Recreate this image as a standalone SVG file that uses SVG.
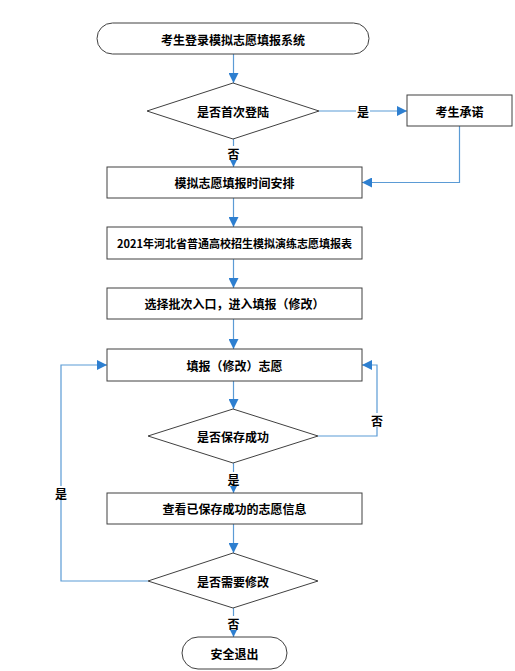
<svg xmlns="http://www.w3.org/2000/svg" width="515" height="671" viewBox="0 0 515 671">
<style>
.n{fill:#fff;stroke:#404040;stroke-width:1}
.t{font-family:"Noto Sans CJK SC","Liberation Serif",sans-serif;font-size:12px;font-weight:bold;fill:#000;text-anchor:middle;dominant-baseline:central}
.c{fill:none;stroke:#5b9bd5;stroke-width:1.2}
.lb{fill:#fff}
</style>
<defs>
<marker id="ah" markerUnits="userSpaceOnUse" markerWidth="10" markerHeight="10" viewBox="0 0 10 10" refX="10" refY="5" orient="auto">
<path d="M0,0 L10,5 L0,10 z" fill="#2e7fd0"/>
</marker>
</defs>
<rect width="515" height="671" fill="#fff"/>
<g id="connectors">
<path class="c" d="M233.5,54 V83" marker-end="url(#ah)"/>
<path class="c" d="M319,111 H407" marker-end="url(#ah)"/>
<path class="c" d="M459.5,126 V182.5 H362" marker-end="url(#ah)"/>
<path class="c" d="M233.5,139 V167" marker-end="url(#ah)"/>
<path class="c" d="M233.5,198 V227" marker-end="url(#ah)"/>
<path class="c" d="M233.5,259 V288" marker-end="url(#ah)"/>
<path class="c" d="M233.5,319 V349" marker-end="url(#ah)"/>
<path class="c" d="M233.5,381 V409" marker-end="url(#ah)"/>
<path class="c" d="M318,436 H377 V365 H362" marker-end="url(#ah)"/>
<path class="c" d="M233.5,463 V493" marker-end="url(#ah)"/>
<path class="c" d="M233.5,524 V553" marker-end="url(#ah)"/>
<path class="c" d="M148,581 H61 V365 H107" marker-end="url(#ah)"/>
<path class="c" d="M233.5,608 V637" marker-end="url(#ah)"/>
<rect class="lb" x="356" y="104" width="14" height="14"/>
<text class="t" x="363" y="111">是</text>
<rect class="lb" x="226.5" y="146" width="14" height="14"/>
<text class="t" x="233.5" y="153">否</text>
<rect class="lb" x="370" y="413" width="14" height="14"/>
<text class="t" x="377" y="420">否</text>
<rect class="lb" x="226.5" y="472" width="14" height="14"/>
<text class="t" x="233.5" y="479">是</text>
<rect class="lb" x="54" y="486" width="14" height="14"/>
<text class="t" x="61" y="493">是</text>
<rect class="lb" x="226.5" y="616" width="14" height="14"/>
<text class="t" x="233.5" y="623">否</text>
</g>
<g id="start">
<rect class="n" x="97" y="23" width="272" height="31" rx="15.5"/>
<text class="t" x="233" y="39">考生登录模拟志愿填报系统</text>
</g>
<g id="d1">
<polygon class="n" points="233,83 319,111 233,139 147,111"/>
<text class="t" x="233" y="111">是否首次登陆</text>
</g>
<g id="promise">
<rect class="n" x="407" y="95" width="105" height="31"/>
<text class="t" x="459.5" y="111">考生承诺</text>
</g>
<g id="schedule">
<rect class="n" x="107" y="167" width="255" height="31"/>
<text class="t" x="234.5" y="182.5">模拟志愿填报时间安排</text>
</g>
<g id="form">
<rect class="n" x="107" y="227" width="255" height="32"/>
<text class="t" x="234.5" y="243" style="font-size:11px">2021年河北省普通高校招生模拟演练志愿填报表</text>
</g>
<g id="entry">
<rect class="n" x="107" y="288" width="255" height="31"/>
<text class="t" x="234.5" y="303.5">选择批次入口，进入填报（修改）</text>
</g>
<g id="fill">
<rect class="n" x="107" y="349" width="255" height="32"/>
<text class="t" x="234.5" y="365">填报（修改）志愿</text>
</g>
<g id="d2">
<polygon class="n" points="233,409 318,436 233,463 148,436"/>
<text class="t" x="233" y="436">是否保存成功</text>
</g>
<g id="view">
<rect class="n" x="107" y="493" width="255" height="31"/>
<text class="t" x="234.5" y="508.5">查看已保存成功的志愿信息</text>
</g>
<g id="d3">
<polygon class="n" points="233,553 318,581 233,608 148,581"/>
<text class="t" x="233" y="581">是否需要修改</text>
</g>
<g id="end">
<rect class="n" x="182" y="637" width="105" height="32" rx="16"/>
<text class="t" x="234.5" y="653">安全退出</text>
</g>
</svg>
